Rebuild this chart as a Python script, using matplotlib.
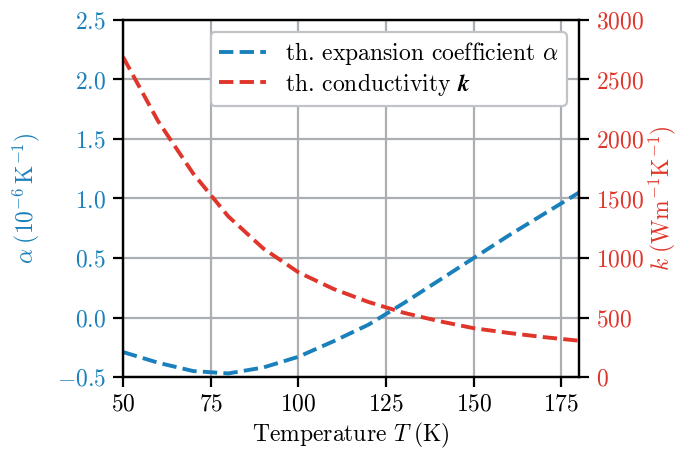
import matplotlib
matplotlib.use("Agg")
import matplotlib.pyplot as plt

plt.rcParams.update({
    "font.family": "serif",
    "font.serif": ["cmr10"],
    "mathtext.fontset": "cm",
    "axes.formatter.use_mathtext": True,
    "font.size": 17,
    "axes.unicode_minus": True,
})

BLUE = "#1a80bb"
RED = "#e0352b"

# thermal expansion coefficient alpha (1e-6 / K)
T_alpha = [50, 60, 70, 80, 90, 100, 110, 120, 130, 140, 150, 160, 170, 180]
alpha = [-0.29, -0.38, -0.45, -0.47, -0.42, -0.33, -0.20, -0.06, 0.12,
         0.31, 0.50, 0.69, 0.87, 1.05]

# thermal conductivity k (W/m/K)
T_k = [50, 60, 70, 80, 90, 100, 110, 120, 130, 140, 150, 160, 170, 180]
k = [2690, 2150, 1710, 1350, 1080, 880, 740, 630, 540, 470, 410, 370, 335, 305]

fig = plt.figure(figsize=(6.78, 4.5), dpi=100)
ax1 = fig.add_axes([0.1814, 0.1622, 0.6726, 0.7934])
ax2 = ax1.twinx()

l1, = ax1.plot(T_alpha, alpha, "--", color=BLUE, lw=2.8,
               label=r"th. expansion coefficient $\alpha$")
l2, = ax2.plot(T_k, k, "--", color=RED, lw=2.8,
               label=r"th. conductivity $\boldsymbol{k}$")

ax1.set_xlim(50, 180)
ax1.set_ylim(-0.5, 2.5)
ax2.set_ylim(0, 3000)
ax1.set_xticks([50, 75, 100, 125, 150, 175])
ax1.set_yticks([-0.5, 0.0, 0.5, 1.0, 1.5, 2.0, 2.5])
ax2.set_yticks([0, 500, 1000, 1500, 2000, 2500, 3000])

ax1.grid(True, color="#abafb3", lw=1.6)
ax1.set_axisbelow(True)

for ax in (ax1, ax2):
    for sp in ax.spines.values():
        sp.set_linewidth(1.6)
    ax.tick_params(width=1.6, length=7, pad=5)

ax1.tick_params(axis="y", labelcolor=BLUE)
ax2.tick_params(axis="y", labelcolor=RED)

ax1.set_xlabel(r"Temperature $T\;(\mathrm{K})$")
ax1.set_ylabel(r"$\alpha\;(10^{-6}\,\mathrm{K}^{-1})$", color=BLUE, labelpad=11)
ax2.set_ylabel(r"$k\;(\mathrm{Wm}^{-1}\mathrm{K}^{-1})$", color=RED, labelpad=2)

leg = ax2.legend(handles=[l1, l2], loc="upper right", fancybox=True,
                 edgecolor="#c0c4c8", framealpha=1.0, labelspacing=0.15,
                 borderpad=0.35)
leg.get_frame().set_linewidth(1.6)

fig.savefig("out.png", dpi=100)
